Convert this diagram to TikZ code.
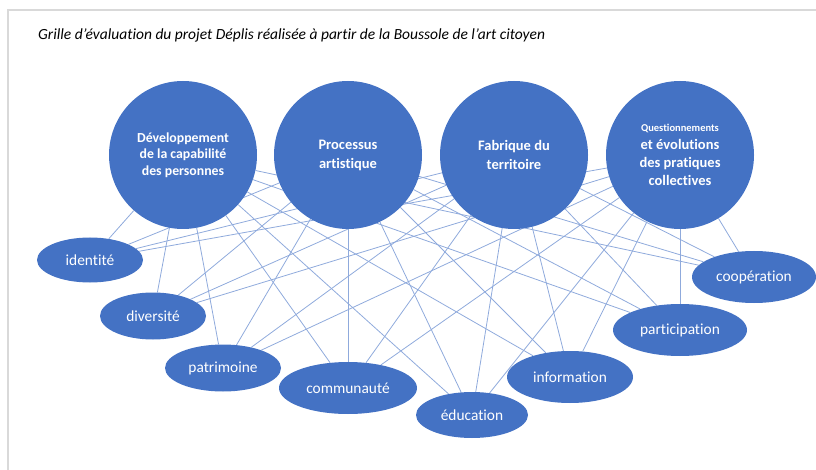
\documentclass[tikz,border=0pt]{standalone}
\usepackage{fontspec}
\setmainfont{Carlito}[Ligatures={NoCommon}]
\usepackage{tikz}
\usepackage{xcolor}
\usetikzlibrary{shapes.geometric,backgrounds}

\definecolor{boxblue}{HTML}{4472C4}
\definecolor{linkblue}{HTML}{8FAADC}
\definecolor{pagegrey}{HTML}{D9D9D9}

\tikzset{
  axe/.style={circle, fill=boxblue, text=white, inner sep=0pt, minimum size=148pt,
    align=center, font=\bfseries\fontsize{13.8}{16.5}\selectfont},
  critere/.style={ellipse, fill=boxblue, text=white, inner sep=0pt,
    font=\fontsize{15.4}{17}\selectfont},
  lien/.style={draw=linkblue, line width=0.8pt}
}

\begin{document}
\begin{tikzpicture}[x=1pt, y=-1pt]
\useasboundingbox (0,0) rectangle (816,470);
\draw[pagegrey, line width=1.5pt] (8,470) -- (8,10) -- (816,10);
\node[anchor=base west, inner sep=0pt, font=\itshape\fontsize{15.5}{17}\selectfont] (titre) at (38,40)
  {Grille d’évaluation du projet Déplis réalisée à partir de la Boussole de l’art citoyen};

% les quatre axes
\node[axe] (dev) at (183,155) {Développement\\de la capabilité\\des personnes};
\node[axe, font=\bfseries\fontsize{14.5}{19}\selectfont] (proc) at (348,155) {Processus\\artistique};
\node[axe, font=\bfseries\fontsize{14.5}{19}\selectfont] (fab) at (514,155) {Fabrique du\\territoire};
\node[axe, font=\bfseries\fontsize{14.5}{18}\selectfont] (quest) at (680,155)
  {{\fontsize{10.5}{12}\selectfont Questionnements}\\et évolutions\\des pratiques\\collectives};

% les critères
\node[critere, minimum width=106pt, minimum height=45pt] (ident) at (90,260) {identité};
\node[critere, minimum width=106pt, minimum height=47pt] (divers) at (153,316) {diversité};
\node[critere, minimum width=116pt, minimum height=47pt] (patri) at (223,368) {patrimoine};
\node[critere, minimum width=138pt, minimum height=52pt] (commu) at (348,388) {communauté};
\node[critere, minimum width=112pt, minimum height=46pt] (educ) at (472,415) {éducation};
\node[critere, minimum width=126pt, minimum height=52pt] (info) at (570,377) {information};
\node[critere, minimum width=134pt, minimum height=52pt] (partic) at (680,330) {participation};
\node[critere, minimum width=124pt, minimum height=52pt] (coop) at (754,277) {coopération};

\begin{scope}[on background layer]
\draw[lien] (dev) -- (ident);
\draw[lien] (dev) -- (divers);
\draw[lien] (dev) -- (patri);
\draw[lien] (dev) -- (commu);
\draw[lien] (dev) -- (educ);
\draw[lien] (dev) -- (info);
\draw[lien] (dev) -- (partic);
\draw[lien] (dev) -- (coop);

\draw[lien] (proc) -- (ident);
\draw[lien] (proc) -- (divers);
\draw[lien] (proc) -- (patri);
\draw[lien] (proc) -- (commu);
\draw[lien] (proc) -- (educ);
\draw[lien] (proc) -- (info);
\draw[lien] (proc) -- (partic);
\draw[lien] (proc) -- (coop);

\draw[lien] (fab) -- (ident);
\draw[lien] (fab) -- (divers);
\draw[lien] (fab) -- (patri);
\draw[lien] (fab) -- (commu);
\draw[lien] (fab) -- (educ);
\draw[lien] (fab) -- (info);
\draw[lien] (fab) -- (partic);
\draw[lien] (fab) -- (coop);

\draw[lien] (quest) -- (ident);
\draw[lien] (quest) -- (divers);
\draw[lien] (quest) -- (patri);
\draw[lien] (quest) -- (commu);
\draw[lien] (quest) -- (educ);
\draw[lien] (quest) -- (info);
\draw[lien] (quest) -- (partic);
\draw[lien] (quest) -- (coop);
\end{scope}
\end{tikzpicture}
\end{document}
